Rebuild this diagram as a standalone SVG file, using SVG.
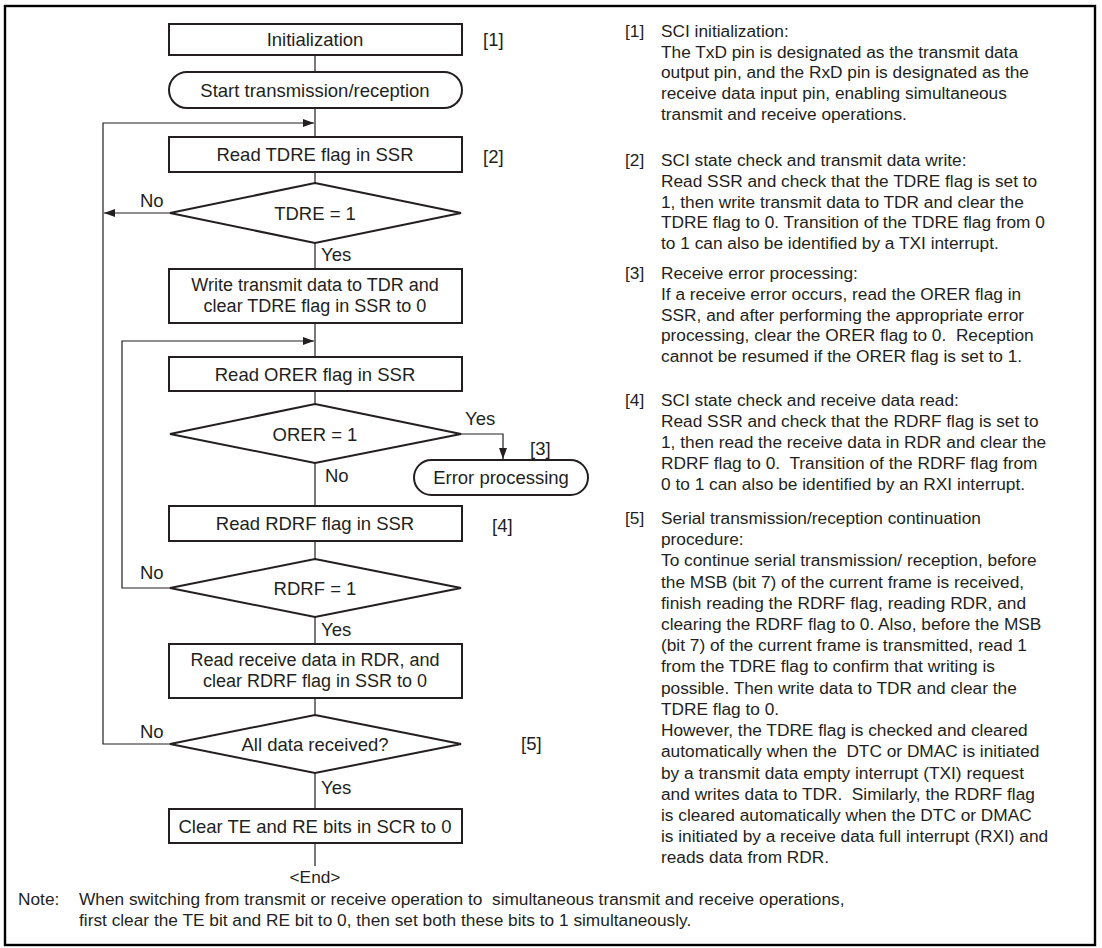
<svg xmlns="http://www.w3.org/2000/svg" width="1102" height="948" viewBox="0 0 1102 948">
<style>
text{font-family:"Liberation Sans",Arial,Helvetica,sans-serif;fill:#231f20;white-space:pre}
.f{font-size:18.5px}
.t{font-size:18px}
.c{text-anchor:middle}
.r{font-size:17.3px}
.box{fill:#fff;stroke:#231f20;stroke-width:2}
.ln{fill:none;stroke:#231f20;stroke-width:1.2}
</style>
<defs>
<marker id="ah" markerUnits="userSpaceOnUse" markerWidth="12" markerHeight="8" refX="11" refY="4" orient="auto"><path d="M0,0 L11,4 L0,8 z" fill="#231f20"/></marker>
</defs>
<rect x="5" y="6" width="1090" height="939" fill="#fff" stroke="#000" stroke-width="2.4"/>
<g id="connectors">
<path class="ln" d="M315,55V72M315,108V137M315,172V183M315,243V269M315,323V357M315,391V404M315,463V506M315,541V559M315,617V644M315,698V715M315,773V809M315,843V866"/>
<path class="ln" d="M170,744H103V123H314" marker-end="url(#ah)"/>
<path class="ln" d="M170,213H104" marker-end="url(#ah)"/>
<path class="ln" d="M170,588H122V341H314" marker-end="url(#ah)"/>
<path class="ln" d="M461,434H503V459" marker-end="url(#ah)"/>
</g>
<g id="n1"><rect class="box" x="169" y="24" width="293" height="31"/><text class="f c" x="315" y="46">Initialization</text><text class="f" x="483" y="46">[1]</text></g>
<g id="n2"><rect class="box" x="169" y="72" width="293" height="36" rx="18"/><text class="f c" x="315" y="96.5">Start transmission/reception</text></g>
<g id="n3"><rect class="box" x="169" y="137" width="293" height="35"/><text class="f c" x="315" y="161">Read TDRE flag in SSR</text><text class="f" x="483" y="163">[2]</text></g>
<g id="n4"><polygon class="box" points="315,183 461,213 315,243 170,213"/><text class="f c" x="315" y="219.5">TDRE = 1</text><text class="f" x="140" y="207">No</text><text class="f" x="321" y="261">Yes</text></g>
<g id="n5"><rect class="box" x="169" y="269" width="293" height="54"/><text class="t c" x="315" y="291">Write transmit data to TDR and</text><text class="t c" x="315" y="311.5">clear TDRE flag in SSR to 0</text></g>
<g id="n6"><rect class="box" x="169" y="357" width="293" height="34"/><text class="f c" x="315" y="380.5">Read ORER flag in SSR</text></g>
<g id="n7"><polygon class="box" points="315,404 461,434 315,463 170,434"/><text class="f c" x="315" y="440.5">ORER = 1</text><text class="f" x="465" y="425">Yes</text><text class="f" x="325" y="482">No</text></g>
<g id="n8"><rect class="box" x="414" y="460" width="174" height="35" rx="17.5"/><text class="f c" x="501" y="484">Error processing</text><text class="f" x="530" y="455">[3]</text></g>
<g id="n9"><rect class="box" x="169" y="506" width="293" height="35"/><text class="f c" x="315" y="530">Read RDRF flag in SSR</text><text class="f" x="492" y="532">[4]</text></g>
<g id="n10"><polygon class="box" points="315,559 461,588 315,617 170,588"/><text class="f c" x="315" y="594.5">RDRF = 1</text><text class="f" x="140" y="579">No</text><text class="f" x="321" y="636">Yes</text></g>
<g id="n11"><rect class="box" x="169" y="644" width="293" height="54"/><text class="t c" x="315" y="666">Read receive data in RDR, and</text><text class="t c" x="315" y="686.5">clear RDRF flag in SSR to 0</text></g>
<g id="n12"><polygon class="box" points="315,715 461,744 315,773 170,744"/><text class="f c" x="315" y="750.5">All data received?</text><text class="f" x="140" y="738">No</text><text class="f" x="521" y="750">[5]</text><text class="f" x="321" y="794">Yes</text></g>
<g id="n13"><rect class="box" x="169" y="809" width="293" height="34"/><text class="f c" x="315" y="832.5">Clear TE and RE bits in SCR to 0</text></g>
<g id="n14"><text class="r c" x="315" y="883">&lt;End&gt;</text></g>
<g id="notes">
<text class="r" x="625" y="37">[1]</text>
<text class="r" x="661" y="37">SCI initialization:</text>
<text class="r" x="661" y="58">The TxD pin is designated as the transmit data</text>
<text class="r" x="661" y="78">output pin, and the RxD pin is designated as the</text>
<text class="r" x="661" y="99">receive data input pin, enabling simultaneous</text>
<text class="r" x="661" y="120">transmit and receive operations.</text>
<text class="r" x="625" y="166">[2]</text>
<text class="r" x="661" y="166">SCI state check and transmit data write:</text>
<text class="r" x="661" y="187">Read SSR and check that the TDRE flag is set to</text>
<text class="r" x="661" y="208">1, then write transmit data to TDR and clear the</text>
<text class="r" x="661" y="228">TDRE flag to 0. Transition of the TDRE flag from 0</text>
<text class="r" x="661" y="249">to 1 can also be identified by a TXI interrupt.</text>
<text class="r" x="625" y="279">[3]</text>
<text class="r" x="661" y="279">Receive error processing:</text>
<text class="r" x="661" y="300">If a receive error occurs, read the ORER flag in</text>
<text class="r" x="661" y="321">SSR, and after performing the appropriate error</text>
<text class="r" x="661" y="341">processing, clear the ORER flag to 0.  Reception</text>
<text class="r" x="661" y="362">cannot be resumed if the ORER flag is set to 1.</text>
<text class="r" x="625" y="406">[4]</text>
<text class="r" x="661" y="406">SCI state check and receive data read:</text>
<text class="r" x="661" y="427">Read SSR and check that the RDRF flag is set to</text>
<text class="r" x="661" y="448">1, then read the receive data in RDR and clear the</text>
<text class="r" x="661" y="469">RDRF flag to 0.  Transition of the RDRF flag from</text>
<text class="r" x="661" y="490">0 to 1 can also be identified by an RXI interrupt.</text>
<text class="r" x="625" y="524">[5]</text>
<text class="r" x="661" y="524">Serial transmission/reception continuation</text>
<text class="r" x="661" y="545">procedure:</text>
<text class="r" x="661" y="566">To continue serial transmission/ reception, before</text>
<text class="r" x="661" y="588">the MSB (bit 7) of the current frame is received,</text>
<text class="r" x="661" y="609">finish reading the RDRF flag, reading RDR, and</text>
<text class="r" x="661" y="630">clearing the RDRF flag to 0. Also, before the MSB</text>
<text class="r" x="661" y="651">(bit 7) of the current frame is transmitted, read 1</text>
<text class="r" x="661" y="672">from the TDRE flag to confirm that writing is</text>
<text class="r" x="661" y="694">possible. Then write data to TDR and clear the</text>
<text class="r" x="661" y="715">TDRE flag to 0.</text>
<text class="r" x="661" y="736">However, the TDRE flag is checked and cleared</text>
<text class="r" x="661" y="757">automatically when the  DTC or DMAC is initiated</text>
<text class="r" x="661" y="779">by a transmit data empty interrupt (TXI) request</text>
<text class="r" x="661" y="800">and writes data to TDR.  Similarly, the RDRF flag</text>
<text class="r" x="661" y="821">is cleared automatically when the DTC or DMAC</text>
<text class="r" x="661" y="842">is initiated by a receive data full interrupt (RXI) and</text>
<text class="r" x="661" y="863">reads data from RDR.</text>
</g>
<g id="note">
<text class="r" x="18" y="905">Note:</text>
<text class="r" x="79" y="905">When switching from transmit or receive operation to  simultaneous transmit and receive operations,</text>
<text class="r" x="79" y="926">first clear the TE bit and RE bit to 0, then set both these bits to 1 simultaneously.</text>
</g>
</svg>
